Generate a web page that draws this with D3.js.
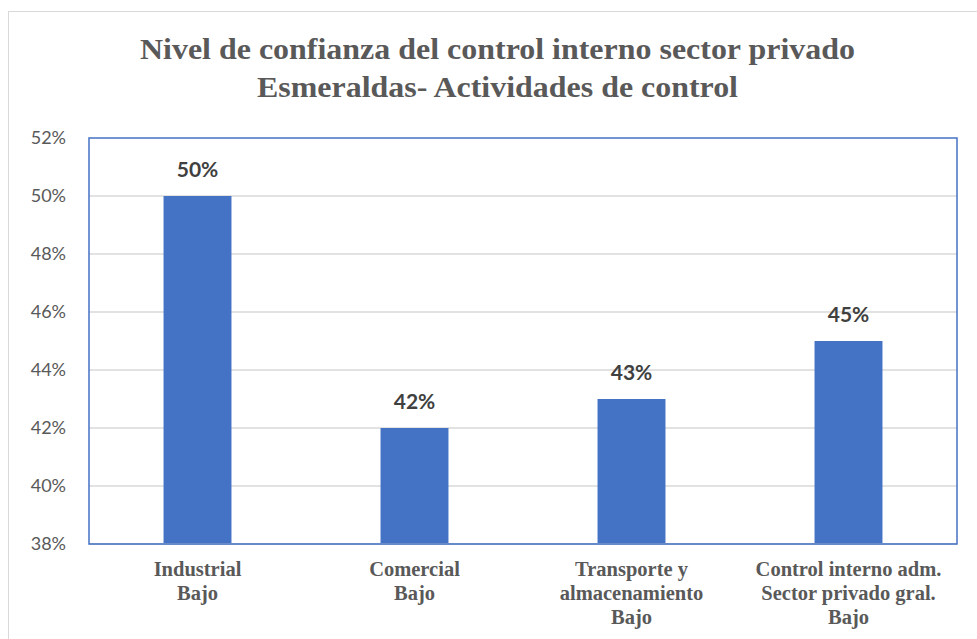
<!DOCTYPE html>
<html>
<head>
<meta charset="utf-8">
<script src="https://cdn.jsdelivr.net/npm/d3@7"></script>
<style>
  body { margin: 0; background: #fff; }
  svg { display: block; }
</style>
</head>
<body>
<div id="chart"></div>
<script>
// Nivel de confianza - Actividades de control

var categories = [
  ["Industrial", "Bajo"],
  ["Comercial", "Bajo"],
  ["Transporte y", "almacenamiento", "Bajo"],
  ["Control interno adm.", "Sector privado gral.", "Bajo"]
];
var values = [50, 42, 43, 45];
var yTicks = [38, 40, 42, 44, 46, 48, 50, 52];
var titleLines = [
  "Nivel de confianza del control interno sector privado",
  "Esmeraldas- Actividades de control"
];
var titleWidths = [715, 481];

var svgWidth = 977, svgHeight = 639;
var plot = {left: 89, top: 138, right: 957, bottom: 544};

var svg = d3.select("#chart").append("svg")
    .attr("width", svgWidth)
    .attr("height", svgHeight);

// outer chart frame
svg.append("rect")
    .attr("x", 8.5).attr("y", 11.5)
    .attr("width", 1000).attr("height", 700)
    .attr("fill", "none")
    .attr("stroke", "#d9d9d9");

// title
svg.append("g").selectAll("text")
    .data(titleLines)
  .enter().append("text")
    .attr("x", 497.5)
    .attr("y", function(d, i) { return 59 + i * 38; })
    .attr("text-anchor", "middle")
    .attr("textLength", function(d, i) { return titleWidths[i]; })
    .attr("lengthAdjust", "spacingAndGlyphs")
    .style("font-family", "'Liberation Serif', 'Times New Roman', serif")
    .style("font-weight", "bold")
    .style("font-size", "29px")
    .style("fill", "#595959")
    .text(function(d) { return d; });

var x = d3.scaleBand()
    .domain(d3.range(values.length))
    .range([plot.left, plot.right])
    .paddingInner(0.687)
    .paddingOuter(0.3435);

var y = d3.scaleLinear()
    .domain([38, 52])
    .range([plot.bottom, plot.top]);

// gridlines
svg.append("g").selectAll("line")
    .data(yTicks.slice(1, -1))
  .enter().append("line")
    .attr("x1", plot.left).attr("x2", plot.right)
    .attr("y1", function(d) { return y(d); })
    .attr("y2", function(d) { return y(d); })
    .attr("stroke", "#d9d9d9")
    .attr("stroke-width", 1.5);

// y axis labels
var leftAxis = d3.axisLeft(y)
    .tickValues(yTicks)
    .tickSize(0)
    .tickPadding(23)
    .tickFormat(function(d) { return d + "%"; });

var yAxis = svg.append("g")
    .attr("transform", "translate(" + plot.left + ",0)")
    .call(leftAxis);
yAxis.select(".domain").remove();
yAxis.selectAll("text")
    .style("font-family", "Lato, 'Open Sans', sans-serif")
    .style("font-size", "18px")
    .style("fill", "#595959");

// bars
svg.append("g").selectAll("rect")
    .data(values)
  .enter().append("rect")
    .attr("x", function(d, i) { return x(i); })
    .attr("y", function(d) { return y(d); })
    .attr("width", x.bandwidth())
    .attr("height", function(d) { return y(38) - y(d); })
    .attr("fill", "#4472c4");

// data labels
svg.append("g").selectAll("text")
    .data(values)
  .enter().append("text")
    .attr("x", function(d, i) { return x(i) + x.bandwidth() / 2; })
    .attr("y", function(d) { return y(d) - 19; })
    .attr("text-anchor", "middle")
    .style("font-family", "Lato, 'Open Sans', sans-serif")
    .style("font-weight", "bold")
    .style("font-size", "21px")
    .style("fill", "#404040")
    .text(function(d) { return d + "%"; });

// bottom axis line
svg.append("line")
    .attr("x1", plot.left).attr("x2", plot.right)
    .attr("y1", plot.bottom).attr("y2", plot.bottom)
    .attr("stroke", "#d0d4de")
    .attr("stroke-width", 2);

// plot area border
svg.append("rect")
    .attr("x", plot.left).attr("y", plot.top)
    .attr("width", plot.right - plot.left)
    .attr("height", plot.bottom - plot.top)
    .attr("fill", "none")
    .attr("stroke", "#4472c4")
    .attr("stroke-width", 1.5);

// category labels
var catG = svg.append("g").selectAll("text")
    .data(categories)
  .enter().append("text")
    .attr("text-anchor", "middle")
    .style("font-family", "'Liberation Serif', 'Times New Roman', serif")
    .style("font-weight", "bold")
    .style("font-size", "20.5px")
    .style("fill", "#595959");

catG.selectAll("tspan")
    .data(function(d, i) { return d.map(function(t) { return {t: t, i: i}; }); })
  .enter().append("tspan")
    .attr("x", function(d) { return x(d.i) + x.bandwidth() / 2; })
    .attr("y", function(d, j) { return 576 + j * 24; })
    .text(function(d) { return d.t; });
</script>
</body>
</html>
